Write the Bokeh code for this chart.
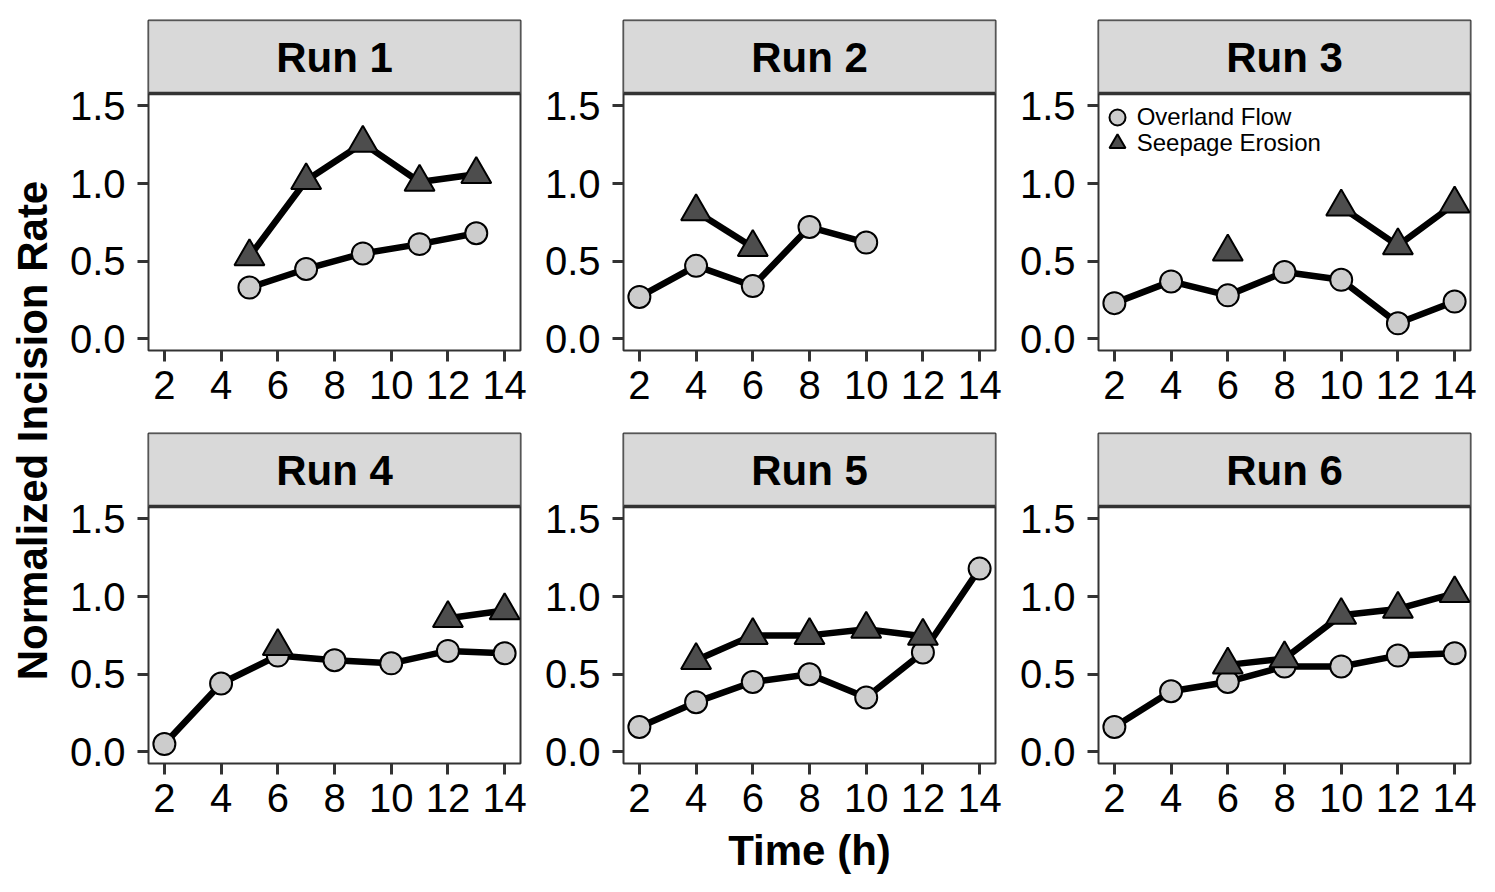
from bokeh.plotting import figure
from bokeh.models import (Range1d, FixedTicker, PrintfTickFormatter, BoxAnnotation,
                          Span, Label, Legend, LegendItem, ColumnDataSource)
from bokeh.layouts import gridplot, row
from bokeh.embed import file_html
from bokeh.resources import INLINE

nan = float("nan")

# ---------------- data ----------------
run_titles = ["Run 1", "Run 2", "Run 3", "Run 4", "Run 5", "Run 6"]
x_ticks = [2, 4, 6, 8, 10, 12, 14]
y_ticks = [0.0, 0.5, 1.0, 1.5]
series_names = ["Overland Flow", "Seepage Erosion"]

overland_t_1 = [5, 7, 9, 11, 13]
overland_v_1 = [0.33, 0.45, 0.55, 0.61, 0.68]
seepage_t_1 = [5, 7, 9, 11, 13]
seepage_v_1 = [0.53, 1.02, 1.26, 1.01, 1.06]

overland_t_2 = [2, 4, 6, 8, 10]
overland_v_2 = [0.27, 0.47, 0.34, 0.72, 0.62]
seepage_t_2 = [4, 6]
seepage_v_2 = [0.82, 0.59]

overland_t_3 = [2, 4, 6, 8, 10, 12, 14]
overland_v_3 = [0.23, 0.37, 0.28, 0.43, 0.38, 0.10, 0.24]
seepage_t_3 = [6, 8, 10, 12, 14]
seepage_v_3 = [0.56, nan, 0.85, 0.60, 0.87]

overland_t_4 = [2, 4, 6, 8, 10, 12, 14]
overland_v_4 = [0.05, 0.44, 0.62, 0.59, 0.57, 0.65, 0.635]
seepage_t_4 = [6, 8, 10, 12, 14]
seepage_v_4 = [0.68, nan, nan, 0.86, 0.91]

overland_t_5 = [2, 4, 6, 8, 10, 12, 14]
overland_v_5 = [0.16, 0.32, 0.45, 0.50, 0.35, 0.64, 1.18]
seepage_t_5 = [4, 6, 8, 10, 12]
seepage_v_5 = [0.59, 0.75, 0.75, 0.79, 0.745]

overland_t_6 = [2, 4, 6, 8, 10, 12, 14]
overland_v_6 = [0.16, 0.39, 0.45, 0.55, 0.55, 0.62, 0.635]
seepage_t_6 = [6, 8, 10, 12, 14]
seepage_v_6 = [0.56, 0.60, 0.88, 0.92, 1.02]

overland_t = [overland_t_1, overland_t_2, overland_t_3, overland_t_4, overland_t_5, overland_t_6]
overland_v = [overland_v_1, overland_v_2, overland_v_3, overland_v_4, overland_v_5, overland_v_6]
seepage_t = [seepage_t_1, seepage_t_2, seepage_t_3, seepage_t_4, seepage_t_5, seepage_t_6]
seepage_v = [seepage_v_1, seepage_v_2, seepage_v_3, seepage_v_4, seepage_v_5, seepage_v_6]

# ---------------- styling / layout ----------------
FONT = "Liberation Sans"
X_LO, X_HI = 1.44, 14.56
Y_LO, PANEL_TOP = -0.075, 1.58
FRAME_W, FRAME_H = 372, 330
STRIP_PX = 73
Y_HI = PANEL_TOP + STRIP_PX * (PANEL_TOP - Y_LO) / (FRAME_H - STRIP_PX)
TICK_FS = "40px"
TITLE_FS = "42px"
TOTAL_H = 884


def make_panel(i):
    bottom = i >= 3
    p = figure(frame_width=FRAME_W, frame_height=FRAME_H,
               x_range=Range1d(X_LO, X_HI), y_range=Range1d(Y_LO, Y_HI),
               output_backend="svg", toolbar_location=None,
               min_border_left=90, min_border_right=13,
               min_border_top=12 if bottom else 20,
               min_border_bottom=121 if bottom else 71,
               background_fill_color="white", border_fill_color="white",
               outline_line_color="#333333", outline_line_width=2)
    p.grid.visible = False

    for ax in (p.xaxis[0], p.yaxis[0]):
        ax.axis_line_color = None
        ax.major_tick_in = 0
        ax.major_tick_out = 11
        ax.major_tick_line_color = "#333333"
        ax.major_tick_line_width = 3
        ax.minor_tick_line_color = None
        ax.major_label_text_font = FONT
        ax.major_label_text_font_size = TICK_FS
        ax.major_label_text_color = "black"
    p.xaxis.ticker = FixedTicker(ticks=x_ticks)
    p.yaxis.ticker = FixedTicker(ticks=y_ticks)
    p.yaxis.formatter = PrintfTickFormatter(format="%.1f")
    p.xaxis.major_label_standoff = 9
    p.yaxis.major_label_standoff = 12

    if i == 4:
        p.xaxis.axis_label = "Time (h)"
        p.xaxis.axis_label_text_font = FONT
        p.xaxis.axis_label_text_font_size = TITLE_FS
        p.xaxis.axis_label_text_font_style = "bold"
        p.xaxis.axis_label_text_color = "black"
        p.xaxis.axis_label_standoff = 12

    # strip
    p.add_layout(BoxAnnotation(left=X_LO, right=X_HI, bottom=PANEL_TOP, top=Y_HI,
                               fill_color="#d9d9d9", fill_alpha=1.0,
                               line_color="#333333", line_width=2))
    p.add_layout(Span(location=PANEL_TOP, dimension="width",
                      line_color="#333333", line_width=3.5))
    p.add_layout(Label(x=(X_LO + X_HI) / 2, y=(PANEL_TOP + Y_HI) / 2,
                       text=run_titles[i], text_align="center", text_baseline="middle",
                       text_font=FONT, text_font_size=TITLE_FS, text_font_style="bold",
                       text_color="black"))

    so = ColumnDataSource(dict(t=overland_t[i], v=overland_v[i]))
    ss = ColumnDataSource(dict(t=seepage_t[i], v=seepage_v[i]))
    p.line("t", "v", source=so, line_color="black", line_width=6.5, line_join="round")
    p.line("t", "v", source=ss, line_color="black", line_width=6.5, line_join="round")
    rc = p.scatter("t", "v", source=so, marker="circle", size=22,
                   fill_color="#cccccc", line_color="black", line_width=2)
    rt = p.scatter("t", "v", source=ss, marker="triangle", size=30,
                   fill_color="#4d4d4d", line_color="black", line_width=2)

    if i == 2:
        for lab, rend, ybot in [(series_names[0], rc, 212), (series_names[1], rt, 186)]:
            leg = Legend(items=[LegendItem(label=lab, renderers=[rend])],
                         location=(-1.3, ybot), orientation="vertical",
                         glyph_width=40, glyph_height=42,
                         label_standoff=0, padding=0, margin=0,
                         label_text_font=FONT, label_text_font_size="24px",
                         label_text_color="black",
                         background_fill_alpha=0, border_line_alpha=0)
            p.add_layout(leg)
    return p


panels = [make_panel(i) for i in range(6)]
grid = gridplot([panels[0:3], panels[3:6]], toolbar_location=None)

ytitle = figure(width=58, height=TOTAL_H, x_range=Range1d(0, 1), y_range=Range1d(0, 1),
                x_axis_type=None, y_axis_type=None, output_backend="svg",
                toolbar_location=None, min_border=0, outline_line_color=None,
                background_fill_color="white", border_fill_color="white")
ytitle.grid.visible = False
ytitle.add_layout(Label(x=0.55, y=(TOTAL_H - 430) / TOTAL_H, text="Normalized Incision Rate",
                        angle=1.5707963, text_align="center", text_baseline="middle",
                        text_font=FONT, text_font_size=TITLE_FS, text_font_style="bold",
                        text_color="black"))

layout = row(ytitle, grid)
open("out.html", "w").write(file_html(layout, INLINE))
